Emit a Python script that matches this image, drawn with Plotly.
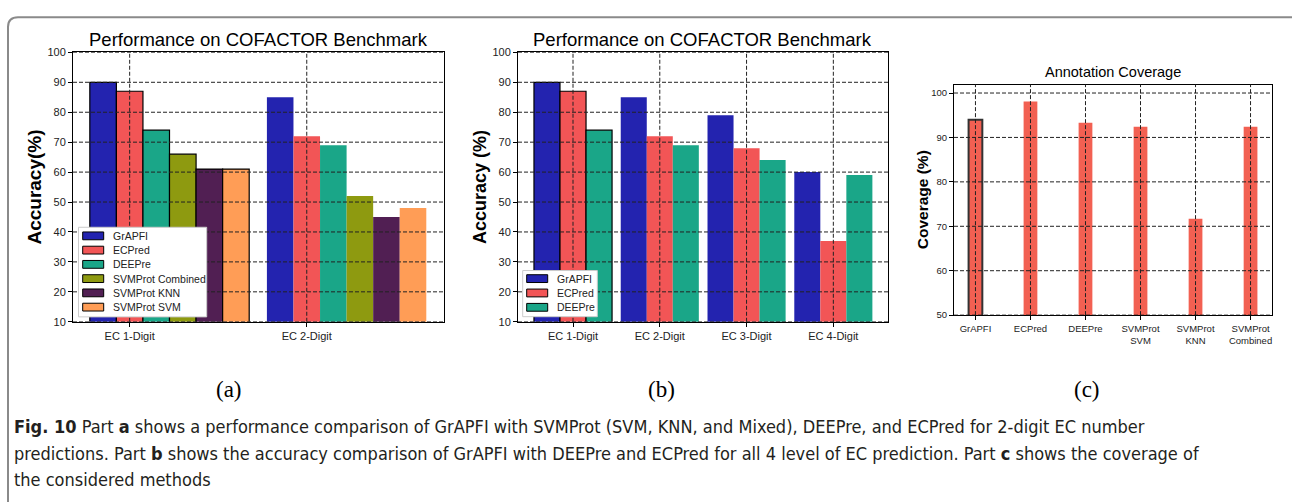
import plotly.graph_objects as go

W, H = 1292, 502

# ---------- data ----------
cats_a = ["EC 1-Digit", "EC 2-Digit"]
series_a = ["GrAPFI", "ECPred", "DEEPre", "SVMProt Combined", "SVMProt KNN", "SVMProt SVM"]
grapfi_a = [90, 85]
ecpred_a = [87, 72]
deepre_a = [74, 69]
svm_comb_a = [66, 52]
svm_knn_a = [61, 45]
svm_svm_a = [61, 48]

cats_b = ["EC 1-Digit", "EC 2-Digit", "EC 3-Digit", "EC 4-Digit"]
series_b = ["GrAPFI", "ECPred", "DEEPre"]
grapfi_b = [90, 85, 79, 60]
ecpred_b = [87, 72, 68, 37]
deepre_b = [74, 69, 64, 59]

cats_c = ["GrAPFI", "ECPred", "DEEPre", "SVMProt<br>SVM", "SVMProt<br>KNN", "SVMProt<br>Combined"]
coverage_c = [94.0, 98.1, 93.3, 92.4, 71.7, 92.4]

yticks_ab = [10, 20, 30, 40, 50, 60, 70, 80, 90, 100]
yticks_c = [50, 60, 70, 80, 90, 100]

colors = {"GrAPFI": "#2323AF", "ECPred": "#F25556", "DEEPre": "#1AA688",
          "SVMProt Combined": "#8E9A10", "SVMProt KNN": "#511F53", "SVMProt SVM": "#FF9D56"}

def X(px):
    return px / W

def Y(py):
    return 1 - py / H

FONT = "Liberation Sans, Arial, sans-serif"
fig = go.Figure()

# ---------- panel a ----------
vals_a = [grapfi_a, ecpred_a, deepre_a, svm_comb_a, svm_knn_a, svm_svm_a]
wa = 0.15
for k, (name, v) in enumerate(zip(series_a, vals_a)):
    fig.add_trace(go.Bar(
        x=cats_a, y=v, name=name, width=wa, offset=-1.5 * wa + k * wa, showlegend=False,
        marker=dict(color=colors[name], line=dict(color="black", width=[1.2, 0])),
        xaxis="x", yaxis="y"))

# ---------- panel b ----------
vals_b = [grapfi_b, ecpred_b, deepre_b]
wb = 0.3
for k, (name, v) in enumerate(zip(series_b, vals_b)):
    fig.add_trace(go.Bar(
        x=cats_b, y=v, name=name, width=wb, offset=-1.5 * wb + k * wb, showlegend=False,
        marker=dict(color=colors[name], line=dict(color="black", width=[1.2, 0, 0, 0])),
        xaxis="x2", yaxis="y2"))

# ---------- panel c ----------
fig.add_trace(go.Bar(
    x=cats_c, y=coverage_c, width=0.25, offset=-0.125, showlegend=False,
    marker=dict(color="#F26052", line=dict(color="#333333", width=[2, 0, 0, 0, 0, 0])),
    xaxis="x3", yaxis="y3"))

axis_common = dict(showline=True, mirror=True, linecolor="black", linewidth=1,
                   ticks="outside", ticklen=4, tickcolor="black", showgrid=False,
                   zeroline=False, tickfont=dict(family=FONT, size=11, color="#222"))
small_tick = dict(family=FONT, size=9.5, color="#222")

fig.update_layout(
    width=W, height=H, margin=dict(l=0, r=0, t=0, b=0),
    paper_bgcolor="white", plot_bgcolor="white", barmode="overlay",
    font=dict(family=FONT, color="#222"), showlegend=False,
    xaxis=dict(domain=[X(73), X(444)], range=[-0.32, 1.775], anchor="y",
               type="category", **axis_common),
    yaxis=dict(domain=[Y(323.5), Y(47.5)], range=[10, 100], tickvals=yticks_ab, anchor="x",
               **axis_common),
    xaxis2=dict(domain=[X(518), X(888)], range=[-0.634, 3.63], anchor="y2",
                type="category", **axis_common),
    yaxis2=dict(domain=[Y(323.5), Y(47.5)], range=[10, 100], tickvals=yticks_ab, anchor="x2",
                **axis_common),
    xaxis3=dict(domain=[X(954), X(1272)], range=[-0.39, 5.39], anchor="y3",
                type="category", **{**axis_common, "tickfont": small_tick}),
    yaxis3=dict(domain=[Y(316.7), Y(80.5)], range=[50, 101.9], tickvals=yticks_c, anchor="x3",
                **{**axis_common, "tickfont": small_tick}),
)

# ---------- dashed grid drawn above bars ----------
grid_line = dict(color="#222222", width=1, dash="4px,2px")
shapes = []
for (xa, ya, cats, yt) in [("x", "y", cats_a, yticks_ab), ("x2", "y2", cats_b, yticks_ab),
                           ("x3", "y3", cats_c, yticks_c)]:
    for t in yt:
        shapes.append(dict(type="line", xref=f"{xa} domain", yref=ya, x0=0, x1=1, y0=t, y1=t,
                           line=grid_line, layer="above"))
    for c in cats:
        shapes.append(dict(type="line", xref=xa, yref=f"{ya} domain", x0=c, x1=c, y0=0, y1=1,
                           line=grid_line, layer="above"))

# figure border (rounded top-left corner)
r = 10
path = (f"M {X(8)} {Y(H + 20)} L {X(8)} {Y(11.5 + r)} Q {X(8)} {Y(11.5)} {X(8 + r)} {Y(11.5)} "
        f"L {X(W + 20)} {Y(11.5)}")
shapes.append(dict(type="path", xref="paper", yref="paper", path=path,
                   line=dict(color="#8a8a8a", width=2)))

ann = []

# ---------- legends (matplotlib style, wide swatches) ----------
def add_legend(names, box, sw_x0, sw_x1, text_x, y0, dy):
    bx0, by0, bx1, by1 = box
    shapes.append(dict(type="rect", xref="paper", yref="paper", x0=X(bx0), x1=X(bx1),
                       y0=Y(by1), y1=Y(by0), fillcolor="white",
                       line=dict(color="#cccccc", width=1), layer="above"))
    for k, name in enumerate(names):
        cy = y0 + k * dy
        shapes.append(dict(type="rect", xref="paper", yref="paper", x0=X(sw_x0), x1=X(sw_x1),
                           y0=Y(cy + 4), y1=Y(cy - 4), fillcolor=colors[name],
                           line=dict(color="black", width=1), layer="above"))
        ann.append(dict(text=name, x=X(text_x), y=Y(cy), xref="paper", yref="paper",
                        xanchor="left", yanchor="middle", showarrow=False,
                        font=dict(family=FONT, size=10.5, color="#222")))

add_legend(series_a, (78.5, 226.7, 206.7, 318.5), 82.7, 103.7, 111, 235.5, 14.6)
add_legend(series_b, (522.7, 271, 597.3, 318.3), 526.7, 547.7, 555, 279.3, 14.7)

fig.update_layout(shapes=shapes)

# ---------- texts ----------
def txt(text, px, py, size, family=FONT, angle=0, xanchor="center", color="black"):
    return dict(text=text, x=X(px), y=Y(py), xref="paper", yref="paper", showarrow=False,
                xanchor=xanchor, yanchor="middle", textangle=angle,
                font=dict(family=family, size=size, color=color))

ann.append(txt("Performance on COFACTOR Benchmark", 258.5, 34, 18.5))
ann.append(txt("Performance on COFACTOR Benchmark", 703, 34, 18.5))
ann.append(txt("Annotation Coverage", 1113, 68, 14.5))
ann.append(txt("<b>Accuracy(%)</b>", 35, 186, 19, angle=-90))
ann.append(txt("<b>Accuracy (%)</b>", 480, 185.5, 18, angle=-90))
ann.append(txt("<b>Coverage (%)</b>", 922, 199, 15.5, angle=-90))

SERIF = "Liberation Serif, Times New Roman, serif"
for lab, px in [("(a)", 229), ("(b)", 661), ("(c)", 1087)]:
    ann.append(txt(lab, px, 393, 23, family=SERIF))

CAP = "Liberation Sans Narrow, DejaVu Sans Condensed, Arial Narrow, sans-serif"
cap_lines = [
    "<b>Fig. 10</b> Part <b>a</b> shows a performance comparison of GrAPFI with SVMProt (SVM, KNN, and Mixed), DEEPre, and ECPred for 2-digit EC number",
    "predictions. Part <b>b</b> shows the accuracy comparison of GrAPFI with DEEPre and ECPred for all 4 level of EC prediction. Part <b>c</b> shows the coverage of",
    "the considered methods",
]
for i, line in enumerate(cap_lines):
    ann.append(txt(line, 12, 431 + 27 * i, 18, family=CAP, xanchor="left", color="#231f20"))
fig.update_layout(annotations=ann)

# remove the default page margin so figure pixels match the window pixels
post = ("document.documentElement.style.margin='0';document.body.style.margin='0';"
        "document.documentElement.style.overflow='hidden';document.body.style.overflow='hidden';")
fig.write_html("out.html", post_script=post, config={"displayModeBar": False})
